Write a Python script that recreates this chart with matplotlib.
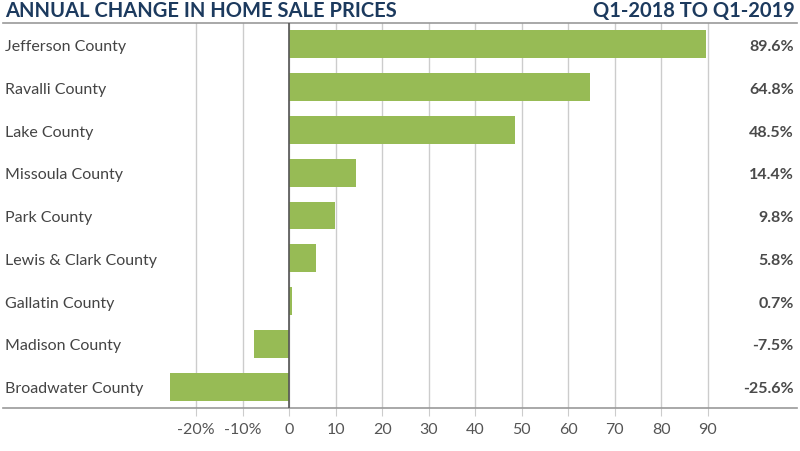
import matplotlib.pyplot as plt

plt.rcParams['font.family'] = ['Lato', 'DejaVu Sans']

counties = ["Jefferson County", "Ravalli County", "Lake County", "Missoula County",
            "Park County", "Lewis & Clark County", "Gallatin County",
            "Madison County", "Broadwater County"]
changes = [89.6, 64.8, 48.5, 14.4, 9.8, 5.8, 0.7, -7.5, -25.6]
tick_vals = [-20, -10, 0, 10, 20, 30, 40, 50, 60, 70, 80, 90]
tick_labels = ["-20%", "-10%", "0", "10", "20", "30", "40", "50", "60", "70", "80", "90"]

W, H = 800, 451
fig = plt.figure(figsize=(8, 4.51), dpi=100)
ax = fig.add_axes([3 / W, (H - 408) / H, 794 / W, 385 / H])

ypos = list(range(len(counties)))
ax.barh(ypos, changes, height=0.65, color="#97bb55", zorder=3)

for v in tick_vals:
    ax.axvline(v, color="#cccccc", lw=1, zorder=1)
ax.axvline(0, color="#555555", lw=1.2, zorder=4)

ax.set_xlim(-61.5, 109.2)
ax.set_ylim(len(counties) - 0.5, -0.5)

for s in ["left", "right"]:
    ax.spines[s].set_visible(False)
for s in ["top", "bottom"]:
    ax.spines[s].set_color("#999999")
    ax.spines[s].set_linewidth(1.2)

ax.set_yticks([])
ax.set_xticks(tick_vals)
ax.set_xticklabels(tick_labels, fontsize=11.5, color="#555555")
ax.tick_params(axis="x", length=6, color="#cccccc", pad=5)

for i, (name, v) in enumerate(zip(counties, changes)):
    ax.text(-61, i + 0.06, name, ha="left", va="center", fontsize=11.5, color="#444444")
    ax.text(108.5, i + 0.06, f"{v:.1f}%", ha="right", va="center", fontsize=11.5,
            color="#4a4a4a", fontweight="bold")

fig.text(5 / W, 1 - 11 / H, "ANNUAL CHANGE IN HOME SALE PRICES", ha="left", va="center",
         fontsize=14.5, color="#1c3a5e", fontweight="bold")
fig.text(795 / W, 1 - 11 / H, "Q1-2018 TO Q1-2019", ha="right", va="center",
         fontsize=14.5, color="#1c3a5e", fontweight="bold")

fig.savefig("out.png", dpi=100)
